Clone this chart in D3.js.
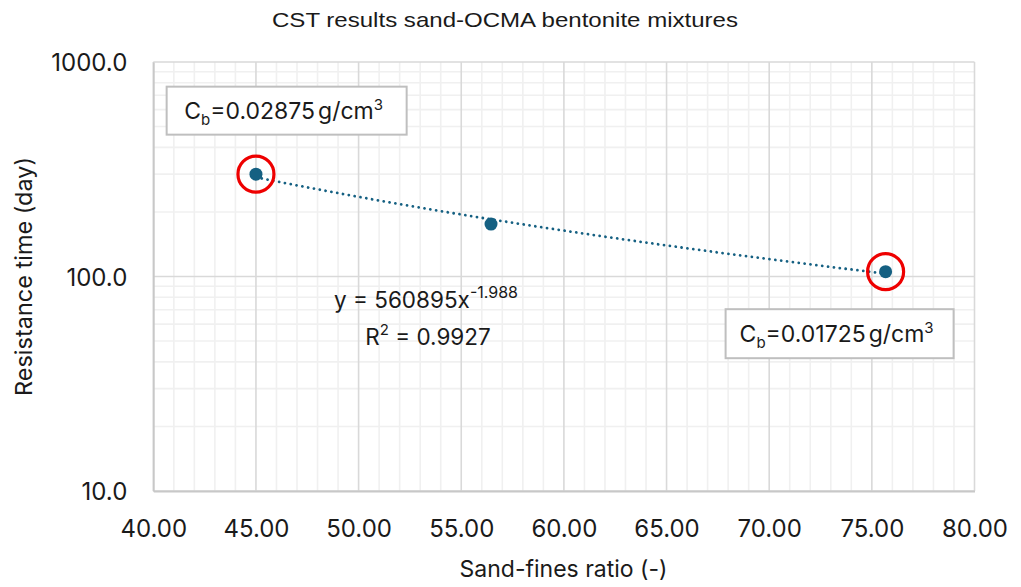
<!DOCTYPE html>
<html>
<head>
<meta charset="utf-8">
<script src="https://cdn.jsdelivr.net/npm/d3@7"></script>
<style>
  body { margin: 0; background: #ffffff; }
  text { font-family: Inter, "Noto Sans", "Liberation Sans", sans-serif; fill: #1a1a1a; }
  .title { font-family: "Liberation Sans", Arial, sans-serif; }
</style>
</head>
<body>
<svg id="chart" width="1021" height="587"></svg>
<script>
// Measured CST results for sand–OCMA bentonite mixtures
const sandFinesRatio = [45.0, 56.45, 75.67];
const resistanceDays = [300, 175.5, 105.3];

// Bentonite concentration noted beside the first and last mixtures
const labelledPoints = [0, 2];
const bentoniteConc = ["0.02875", "0.01725"];

// Power-law trendline y = a·x^b as reported
const trendA = 560895;
const trendB = -1.988;
const trendR2 = "0.9927";

// Axis ticks
const xTicks = [40, 45, 50, 55, 60, 65, 70, 75, 80];
const yTicks = [10, 100, 1000];

const titleText = "CST results sand-OCMA bentonite mixtures";
const xTitle = "Sand-fines ratio (-)";
const yTitle = "Resistance time (day)";

const svg = d3.select("#chart");
const plot = { left: 153.3, right: 974.5, top: 62, bottom: 491 };

const x = d3.scaleLinear().domain([40, 80]).range([plot.left, plot.right]);
const y = d3.scaleLog().domain([10, 1000]).range([plot.bottom, plot.top]);

const markColor = "#156082";

// ---- gridlines ----
const grid = svg.append("g");
const xMinor = d3.range(41, 80).filter(v => v % 5 !== 0);
const yMinor = [];
[10, 100].forEach(d => { for (let k = 2; k <= 9; k++) yMinor.push(d * k); });

grid.selectAll(".xminor").data(xMinor).join("line")
  .attr("x1", d => x(d)).attr("x2", d => x(d))
  .attr("y1", plot.top).attr("y2", plot.bottom)
  .attr("stroke", "#f0f0f0").attr("stroke-width", 1.6);
grid.selectAll(".yminor").data(yMinor).join("line")
  .attr("x1", plot.left).attr("x2", plot.right)
  .attr("y1", d => y(d)).attr("y2", d => y(d))
  .attr("stroke", "#f0f0f0").attr("stroke-width", 1.6);
grid.selectAll(".xmajor").data(xTicks).join("line")
  .attr("x1", d => x(d)).attr("x2", d => x(d))
  .attr("y1", plot.top).attr("y2", plot.bottom)
  .attr("stroke", "#d9d9d9").attr("stroke-width", 1.6);
grid.selectAll(".ymajor").data(yTicks).join("line")
  .attr("x1", plot.left).attr("x2", plot.right)
  .attr("y1", d => y(d)).attr("y2", d => y(d))
  .attr("stroke", "#d9d9d9").attr("stroke-width", 1.6);

// ---- axes ----
const xAxis = svg.append("g")
  .attr("transform", `translate(0,${plot.bottom})`)
  .call(d3.axisBottom(x).tickValues(xTicks).tickFormat(d3.format(".2f")).tickSize(0).tickPadding(46));
xAxis.select(".domain").attr("stroke", "#c8c8c8").attr("stroke-width", 1.8);
xAxis.selectAll("text").attr("font-size", 24).attr("dy", 0).attr("fill", "#1a1a1a")
  .attr("font-family", "Inter, 'Noto Sans', sans-serif");

const yAxis = svg.append("g")
  .attr("transform", `translate(${plot.left},0)`)
  .call(d3.axisLeft(y).tickValues(yTicks).tickFormat(d3.format(".1f")).tickSize(0).tickPadding(26));
yAxis.select(".domain").attr("stroke", "#c8c8c8").attr("stroke-width", 1.8);
yAxis.selectAll("text").attr("font-size", 24).attr("dy", "0.36em").attr("fill", "#1a1a1a")
  .attr("font-family", "Inter, 'Noto Sans', sans-serif");

// ---- titles ----
svg.append("text").attr("class", "title")
  .attr("x", 505).attr("y", 27)
  .attr("text-anchor", "middle").attr("font-size", 21)
  .attr("textLength", 466).attr("lengthAdjust", "spacingAndGlyphs")
  .text(titleText);

svg.append("text")
  .attr("x", 563.5).attr("y", 577)
  .attr("text-anchor", "middle").attr("font-size", 23)
  .text(xTitle);

svg.append("text")
  .attr("transform", `translate(32,276.5) rotate(-90)`)
  .attr("text-anchor", "middle").attr("font-size", 23.5)
  .text(yTitle);

// ---- trendline ----
const trendX = d3.extent(sandFinesRatio);
const trendPts = d3.range(0, 41).map(i => {
  const xv = trendX[0] + (trendX[1] - trendX[0]) * i / 40;
  return [xv, trendA * Math.pow(xv, trendB)];
});
svg.append("path")
  .datum(trendPts)
  .attr("d", d3.line().x(d => x(d[0])).y(d => y(d[1])))
  .attr("fill", "none")
  .attr("stroke", markColor)
  .attr("stroke-width", 2.8)
  .attr("stroke-linecap", "round")
  .attr("stroke-dasharray", "0.01 5.9");

// ---- points ----
svg.selectAll(".pt").data(sandFinesRatio).join("circle")
  .attr("cx", d => x(d))
  .attr("cy", (d, i) => y(resistanceDays[i]))
  .attr("r", 6.5)
  .attr("fill", markColor);

// red highlight rings
svg.selectAll(".ring").data(labelledPoints).join("circle")
  .attr("cx", i => x(sandFinesRatio[i]))
  .attr("cy", i => y(resistanceDays[i]))
  .attr("r", 18)
  .attr("fill", "none")
  .attr("stroke", "#ee0000")
  .attr("stroke-width", 3.2);

// ---- concentration call-outs ----
const boxOffsets = [
  { dx: 30.7, dy: -63.5, w: 240, h: 48 },
  { dx: -46, dy: 62, w: 228, h: 49 }
];
labelledPoints.forEach((pi, k) => {
  const o = boxOffsets[k];
  const cx = x(sandFinesRatio[pi]) + o.dx;
  const cy = y(resistanceDays[pi]) + o.dy;
  const g = svg.append("g");
  g.append("rect")
    .attr("x", cx - o.w / 2).attr("y", cy - o.h / 2)
    .attr("width", o.w).attr("height", o.h)
    .attr("fill", "#ffffff").attr("stroke", "#bfbfbf").attr("stroke-width", 2);
  const t = g.append("text")
    .attr("x", cx - 3).attr("y", cy + 8.5)
    .attr("text-anchor", "middle").attr("font-size", 23);
  t.append("tspan").text("C");
  t.append("tspan").attr("font-size", 15).attr("dy", 6).text("b");
  t.append("tspan").attr("dy", -6).text("=" + bentoniteConc[k]);
  t.append("tspan").attr("dx", 3).text("g/cm");
  t.append("tspan").attr("font-size", 15).attr("dy", -9).text("3");
});

// ---- trendline equation ----
const eq = svg.append("text")
  .attr("x", 426).attr("y", 308)
  .attr("text-anchor", "middle").attr("font-size", 22.5);
eq.append("tspan").text(`y = ${trendA}x`);
eq.append("tspan").attr("font-size", 16).attr("dy", -10).text(`-${Math.abs(trendB).toFixed(3)}`);

const r2 = svg.append("text")
  .attr("x", 428).attr("y", 345)
  .attr("text-anchor", "middle").attr("font-size", 22.5);
r2.append("tspan").text("R");
r2.append("tspan").attr("font-size", 15).attr("dy", -10).text("2");
r2.append("tspan").attr("dy", 10).text(` = ${trendR2}`);
</script>
</body>
</html>
